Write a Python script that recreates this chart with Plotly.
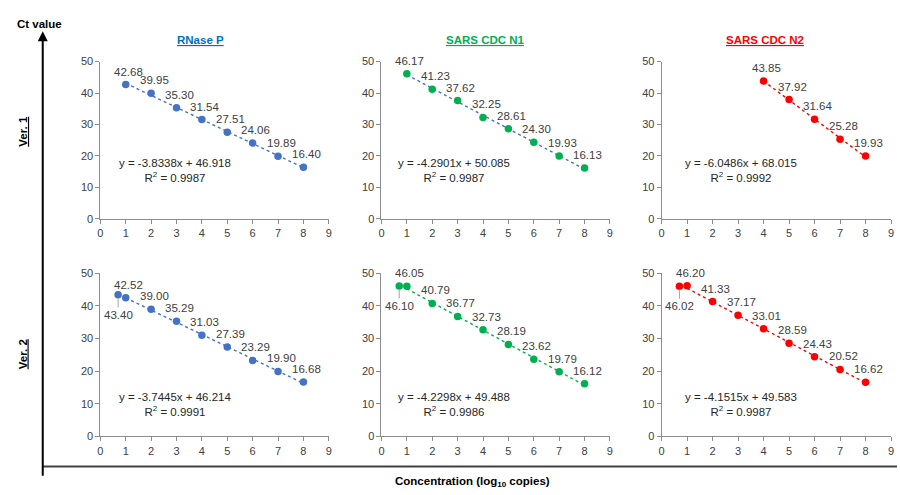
import plotly.graph_objects as go

W, H = 900, 495

# ---------------- data ----------------
titles = ["RNase P", "SARS CDC N1", "SARS CDC N2"]
rows = ["Ver. 1", "Ver. 2"]

x_v1 = [1, 2, 3, 4, 5, 6, 7, 8]
x_v1_n2 = [4, 5, 6, 7, 8]
x_v2 = [0.7, 1, 2, 3, 4, 5, 6, 7, 8]

v1_rnasep = [42.68, 39.95, 35.30, 31.54, 27.51, 24.06, 19.89, 16.40]
v1_n1 = [46.17, 41.23, 37.62, 32.25, 28.61, 24.30, 19.93, 16.13]
v1_n2 = [43.85, 37.92, 31.64, 25.28, 19.93]
v2_rnasep = [43.40, 42.52, 39.00, 35.29, 31.03, 27.39, 23.29, 19.90, 16.68]
v2_n1 = [46.10, 46.05, 40.79, 36.77, 32.73, 28.19, 23.62, 19.79, 16.12]
v2_n2 = [46.02, 46.20, 41.33, 37.17, 33.01, 28.59, 24.43, 20.52, 16.62]

slopes = [-3.8338, -4.2901, -6.0486, -3.7445, -4.2298, -4.1515]
intercepts = [46.918, 50.085, 68.015, 46.214, 49.488, 49.583]
r2 = ["0.9987", "0.9987", "0.9992", "0.9991", "0.9986", "0.9987"]

x_ticks = [0, 1, 2, 3, 4, 5, 6, 7, 8, 9]
y_ticks = [0, 10, 20, 30, 40, 50]

# ---------------- styling ----------------
BLUE, GREEN, RED = "#4472C4", "#00B050", "#FF0000"
title_colors = ["#0070C0", "#00B050", "#FF0000"]
marker_colors = [BLUE, GREEN, RED, BLUE, GREEN, RED]
trend_colors = [BLUE, BLUE, RED, BLUE, GREEN, RED]
FONT = "Arial, Liberation Sans, sans-serif"
AX = "#8C8C8C"

panels = [
    (x_v1, v1_rnasep), (x_v1, v1_n1), (x_v1_n2, v1_n2),
    (x_v2, v2_rnasep), (x_v2, v2_n1), (x_v2, v2_n2),
]

xdom_px = [(98, 328), (381, 611), (663, 894)]
ydom_px = [(57, 218), (274, 441)]
eq_x = [2.93, 2.85, 3.1, 2.93, 2.85, 3.1]
eq_y = [15.4, 15.4, 15.4, 9.7, 9.7, 9.7]


def px_x(p):
    return p / W


def px_y(p):
    return 1 - p / H


fig = go.Figure()
annotations = []
layout_axes = {}

for i, (xs, ys) in enumerate(panels):
    r, c = divmod(i, 3)
    k = i + 1
    xa = "x" if k == 1 else f"x{k}"
    ya = "y" if k == 1 else f"y{k}"
    xname = "xaxis" if k == 1 else f"xaxis{k}"
    yname = "yaxis" if k == 1 else f"yaxis{k}"
    x0, x1 = xdom_px[c]
    yt, yb = ydom_px[r]
    layout_axes[xname] = dict(
        domain=[px_x(x0), px_x(x1)], anchor=ya, range=[0, 9],
        tickvals=x_ticks, showgrid=False, zeroline=False,
        showline=True, linecolor=AX, linewidth=1,
        ticks="outside", ticklen=4, tickcolor=AX,
        tickfont=dict(family=FONT, size=11, color="#404040"),
    )
    layout_axes[yname] = dict(
        domain=[px_y(yb), px_y(yt)], anchor=xa, range=[0, 50],
        tickvals=y_ticks, showgrid=False, zeroline=False,
        showline=True, linecolor=AX, linewidth=1,
        ticks="outside", ticklen=4, tickcolor=AX,
        tickfont=dict(family=FONT, size=11, color="#404040"),
    )

    # trendline (Excel linear fit) from first integer x to last x
    xt = [min(v for v in xs if v >= 1), max(xs)]
    yt_line = [slopes[i] * v + intercepts[i] for v in xt]
    fig.add_trace(go.Scatter(
        x=xt, y=yt_line, mode="lines", xaxis=xa, yaxis=ya,
        line=dict(color=trend_colors[i], width=1.4, dash="dot"),
        hoverinfo="skip", showlegend=False,
    ))
    fig.add_trace(go.Scatter(
        x=xs, y=ys, mode="markers", xaxis=xa, yaxis=ya,
        marker=dict(color=marker_colors[i], size=7.5),
        showlegend=False, cliponaxis=False,
    ))

    # data labels
    for xv, yv in zip(xs, ys):
        if xv < 1:
            annotations.append(dict(
                x=xv, y=yv, xref=xa, yref=ya, text=f"{yv:.2f}",
                showarrow=True, arrowhead=0, arrowwidth=1,
                arrowcolor="#A6A6A6", ax=0, ay=20, standoff=3,
                xanchor="center", yanchor="middle",
                font=dict(family=FONT, size=11.5, color="#404040"),
            ))
        else:
            annotations.append(dict(
                x=xv, y=yv, xref=xa, yref=ya, text=f"{yv:.2f}",
                showarrow=False, xshift=3, yshift=13,
                xanchor="center", yanchor="middle",
                font=dict(family=FONT, size=11.5, color="#404040"),
            ))

    # equation
    annotations.append(dict(
        x=eq_x[i], y=eq_y[i], xref=xa, yref=ya,
        text=f"y = {slopes[i]}x + {intercepts[i]:.3f}<br>R<sup>2</sup> = {r2[i]}",
        showarrow=False, align="center", xanchor="center", yanchor="middle",
        font=dict(family=FONT, size=11.5, color="#262626"),
    ))

# column titles
title_cx = [199, 486, 767]
for t, cx, col in zip(titles, title_cx, title_colors):
    annotations.append(dict(
        x=px_x(cx), y=px_y(35), xref="paper", yref="paper",
        text=f"<b><u>{t}</u></b>", showarrow=False,
        xanchor="center", yanchor="middle",
        font=dict(family=FONT, size=11.5, color=col),
    ))

# row labels
for t, cy in zip(rows, [128, 357]):
    annotations.append(dict(
        x=px_x(20), y=px_y(cy), xref="paper", yref="paper",
        text=f"<b><u>{t}</u></b>", showarrow=False, textangle=-90,
        xanchor="center", yanchor="middle",
        font=dict(family=FONT, size=11.5, color="#000000"),
    ))

# big axes
annotations.append(dict(
    x=px_x(40), y=px_y(26), xref="paper", yref="paper", text="",
    showarrow=True, arrowhead=2, arrowsize=1, arrowwidth=2,
    arrowcolor="#000000", ax=0, ay=446, axref="pixel", ayref="pixel",
))
annotations.append(dict(
    x=px_x(37), y=px_y(18), xref="paper", yref="paper",
    text="<b>Ct value</b>", showarrow=False,
    xanchor="center", yanchor="middle",
    font=dict(family=FONT, size=11.5, color="#000000"),
))
annotations.append(dict(
    x=px_x(473), y=px_y(488), xref="paper", yref="paper",
    text="<b>Concentration (log<sub>10</sub> copies)</b>", showarrow=False,
    xanchor="center", yanchor="middle",
    font=dict(family=FONT, size=11.5, color="#000000"),
))

shapes = [dict(
    type="line", xref="paper", yref="paper",
    x0=px_x(40), x1=1, y0=px_y(472), y1=px_y(472),
    line=dict(color="#404040", width=2),
)]

fig.update_layout(
    width=W, height=H,
    margin=dict(l=0, r=0, t=0, b=0),
    paper_bgcolor="white", plot_bgcolor="white",
    annotations=annotations, shapes=shapes,
    **layout_axes,
)

fig.write_html(
    "out.html",
    config={"displayModeBar": False},
    post_script="document.body.style.margin='0';document.body.style.overflow='hidden';",
)
